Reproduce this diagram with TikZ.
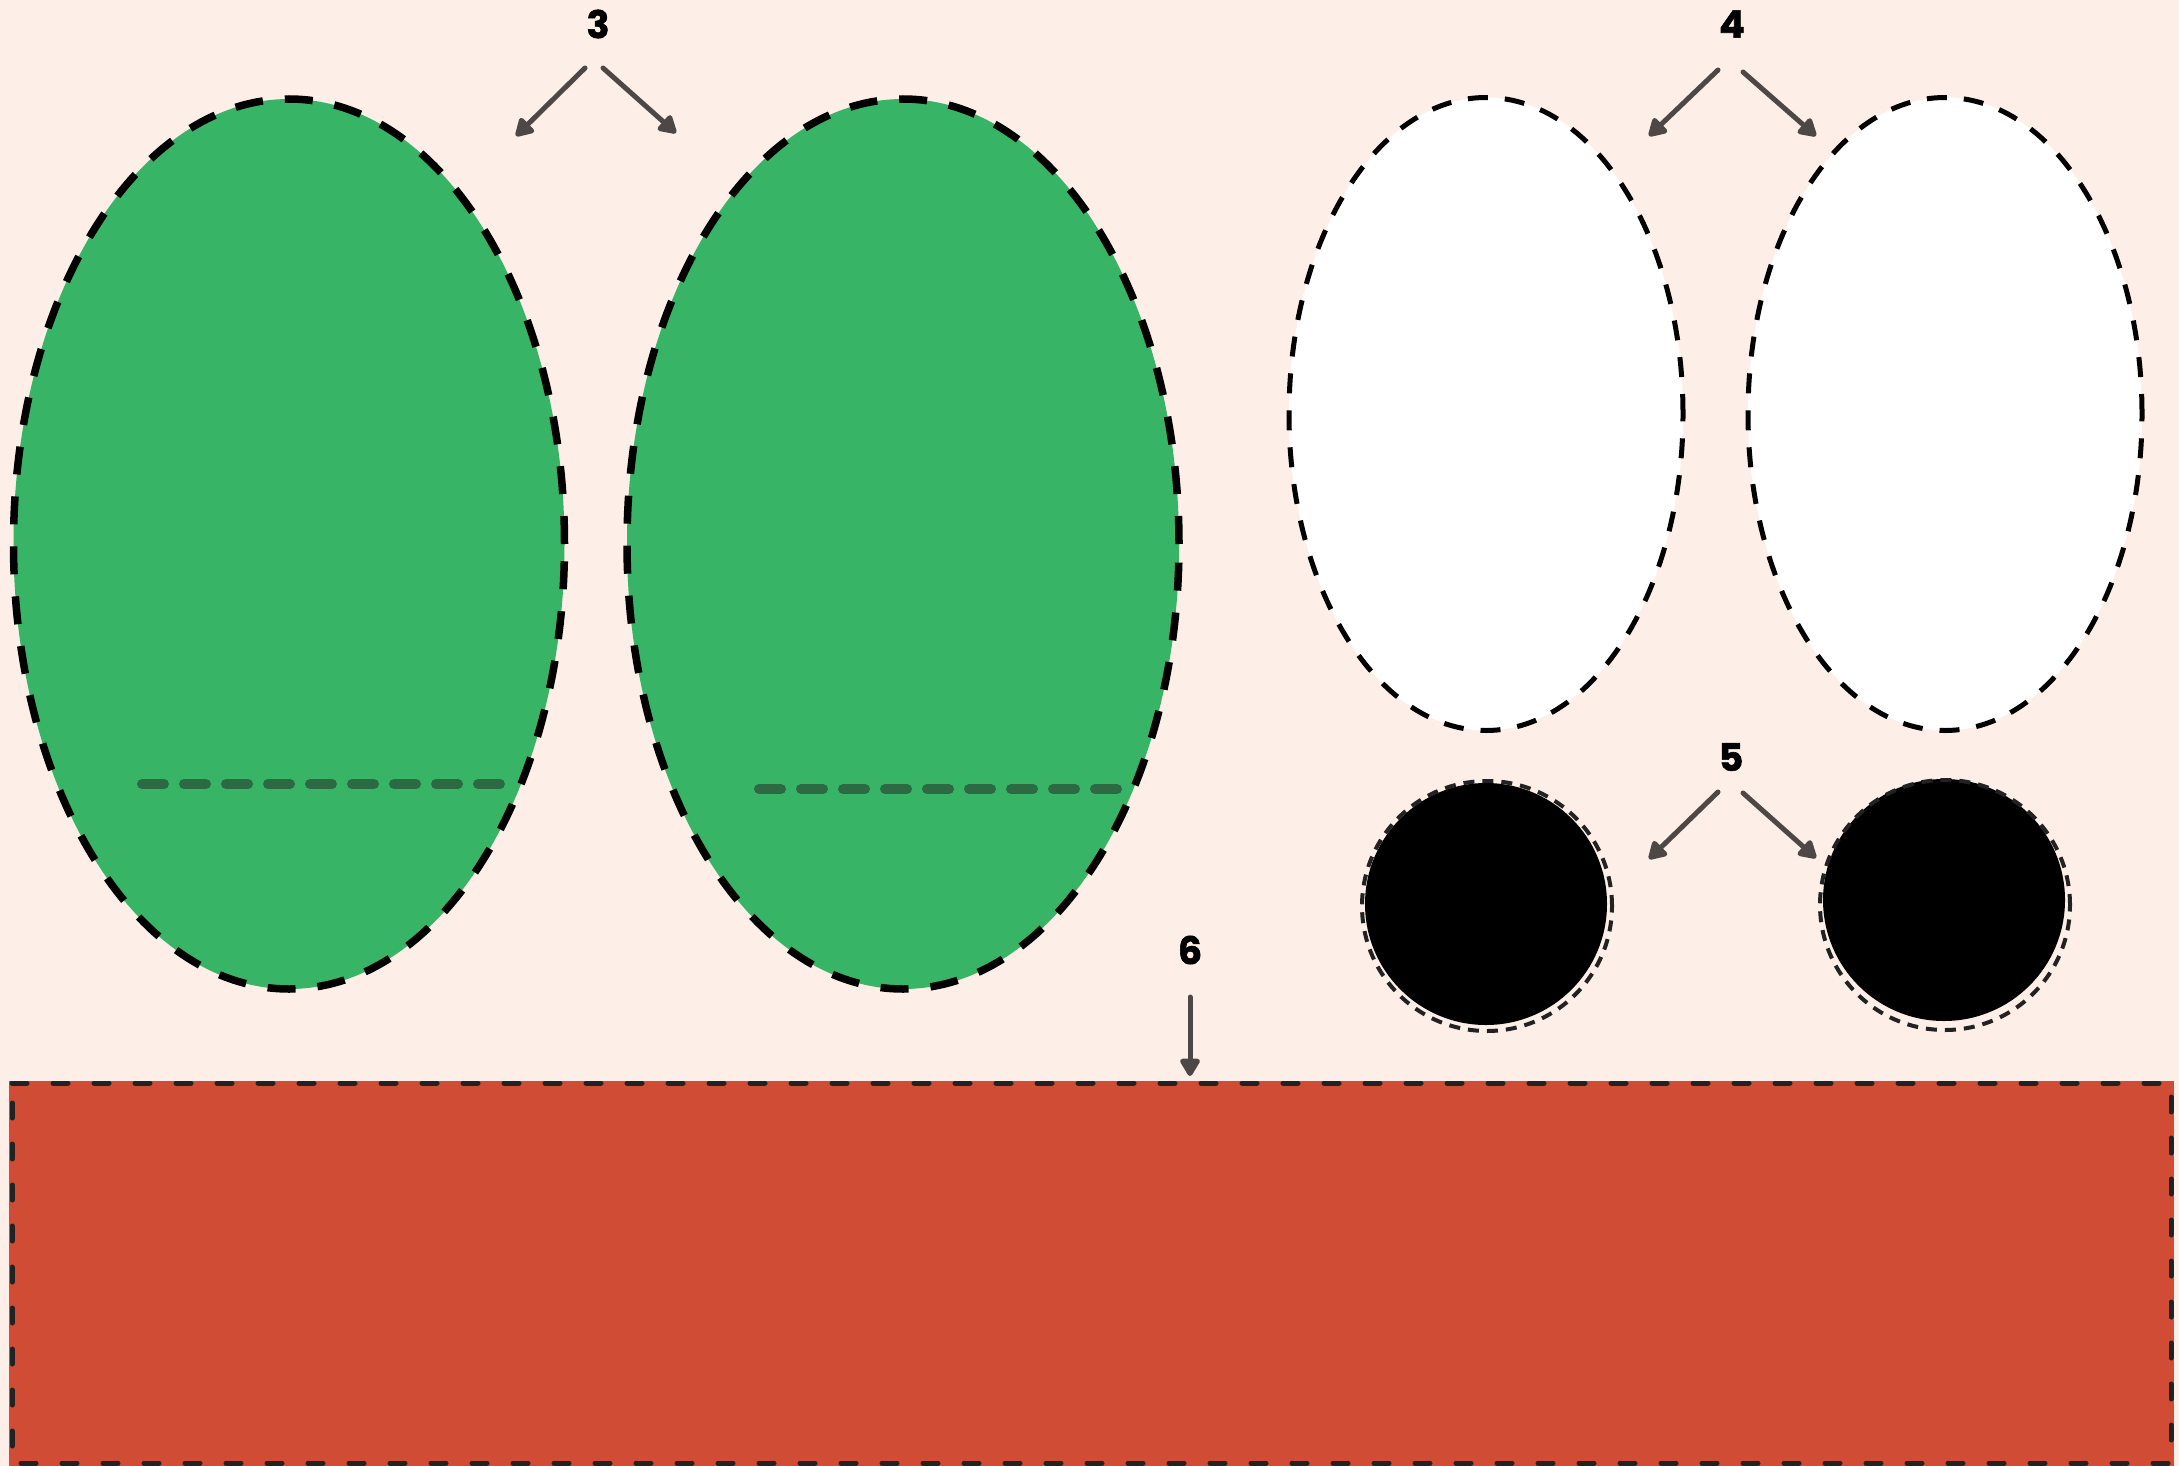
\documentclass[tikz,border=0pt]{standalone}
\usepackage{fontspec}
\setmainfont{Poppins}
\newfontfamily\labelfont{Poppins}[BoldFeatures={FakeBold=1.5}]
\usetikzlibrary{arrows.meta,shapes.geometric}
\definecolor{bg}{HTML}{FEEEE8}
\definecolor{leaf}{HTML}{37B465}
\definecolor{leafline}{HTML}{2D6A43}
\definecolor{brick}{HTML}{D04C35}
\definecolor{ink}{HTML}{222222}
\definecolor{pointer}{HTML}{4D4846}
\tikzset{
  greenoval/.style={ellipse, inner sep=0pt, fill=leaf, draw=black, line width=7.5pt, dash pattern=on 28pt off 22pt},
  whiteoval/.style={ellipse, inner sep=0pt, fill=white, draw=black, line width=5pt, dash pattern=on 20pt off 17pt},
  blackdisc/.style={circle, inner sep=0pt, fill=black, minimum size=242pt},
  discring/.style={circle, inner sep=0pt, draw=ink, line width=4pt, dash pattern=on 11pt off 8pt, minimum size=250pt},
  midline/.style={draw=leafline, line width=10pt, line cap=round, dash pattern=on 22pt off 20pt},
  numlabel/.style={font=\labelfont\fontsize{38}{38}\selectfont\bfseries, text=black, inner sep=0pt},
  pointerarrow/.style={draw=pointer, line width=5pt, line cap=round, -{Triangle[length=20pt,width=22pt,round]}, fill=pointer}
}
\begin{document}
\begin{tikzpicture}[x=1pt,y=-1pt]
\fill[bg] (0,0) rectangle (2179,1466);
\useasboundingbox (0,0) rectangle (2179,1466);

% green ovals
\node[greenoval, minimum width=551pt, minimum height=890pt] (g1) at (289,544) {};
\node[greenoval, minimum width=552pt, minimum height=890pt] (g2) at (903,544) {};
\coordinate (l1a) at (142,784);
\coordinate (l1b) at (512,784);
\coordinate (l2a) at (759,789);
\coordinate (l2b) at (1128,789);
\draw[midline] (l1a) -- (l1b);
\draw[midline] (l2a) -- (l2b);

% white ovals
\node[whiteoval, minimum width=394pt, minimum height=633pt] (w1) at (1486,414) {};
\node[whiteoval, minimum width=394pt, minimum height=633pt] (w2) at (1945,414) {};

% black discs
\node[blackdisc] (b1) at (1486,904) {};
\node[discring] (r1) at (1487,906) {};
\node[blackdisc] (b2) at (1944,900) {};
\node[discring] (r2) at (1945,905) {};

% red slab
\fill[brick] (9,1081) rectangle (2174,1466);
\draw[ink, line width=5pt, line cap=round, dash pattern=on 15pt off 26pt] (12,1083) -- (2171,1083) -- (2171,1463) -- (12,1463) -- cycle;

% labels
\node[numlabel] (n3) at (598,24) {3};
\node[numlabel] (n4) at (1732,24) {4};
\node[numlabel] (n5) at (1731,757) {5};
\node[numlabel] (n6) at (1190,950) {6};

\coordinate (a3ls) at (585,68);  \coordinate (a3le) at (516,136);
\coordinate (a3rs) at (603,68);  \coordinate (a3re) at (676,133);
\coordinate (a4ls) at (1718,70); \coordinate (a4le) at (1649,136);
\coordinate (a4rs) at (1743,72); \coordinate (a4re) at (1816,136);
\coordinate (a5ls) at (1718,792); \coordinate (a5le) at (1649,859);
\coordinate (a5rs) at (1743,793); \coordinate (a5re) at (1816,858);
\coordinate (a6s) at (1190,997); \coordinate (a6e) at (1190,1076);

\draw[pointerarrow] (a3ls) -- (a3le);
\draw[pointerarrow] (a3rs) -- (a3re);
\draw[pointerarrow] (a4ls) -- (a4le);
\draw[pointerarrow] (a4rs) -- (a4re);
\draw[pointerarrow] (a5ls) -- (a5le);
\draw[pointerarrow] (a5rs) -- (a5re);
\draw[pointerarrow] (a6s) -- (a6e);
\end{tikzpicture}
\end{document}
